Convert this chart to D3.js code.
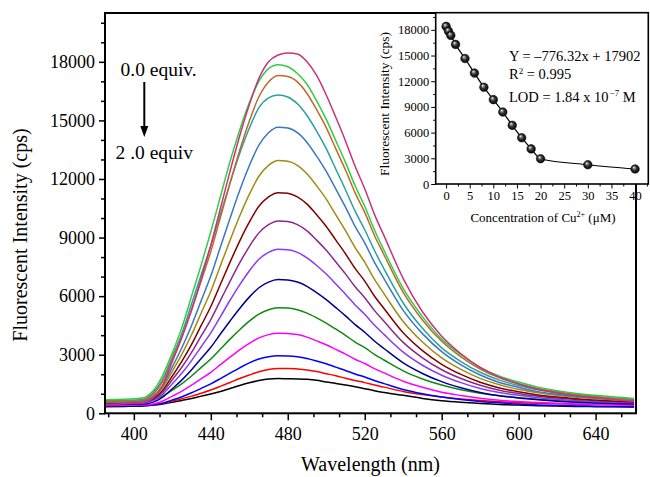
<!DOCTYPE html>
<html><head><meta charset="utf-8">
<script src="https://cdn.jsdelivr.net/npm/d3@7"></script>
<style>
body{margin:0;background:#fff}
svg{display:block}
text{font-family:"Liberation Serif","Times New Roman",serif;fill:#000}
</style>
</head><body>
<svg id="c" width="650" height="477"></svg>
<script>
// ---------- data ----------
const wavelength = [385,395,405,410,415,420,425,430,435,440,445,450,455,460,465,470,475,480,485,490,495,500,505,510,515,520,525,530,540,550,560,570,580,590,600,610,620,630,640,650,660];
const eq00 = [460,490,560,800,1450,2650,3900,5300,6900,8600,10500,12400,14200,15800,17150,18000,18350,18450,18400,18000,17300,16300,15150,13950,12650,11500,10200,9100,6900,5200,3950,3050,2350,1850,1500,1230,1050,900,800,700,620];
const eq05 = [700,720,800,1150,1950,3100,4400,6000,7600,9300,11100,12900,14500,15900,17000,17650,17850,17750,17400,16850,16000,15050,13950,12850,11650,10600,9400,8350,6400,4950,3800,3000,2350,1900,1600,1340,1160,1020,920,830,760];
const eq10 = [600,620,700,970,1640,2770,3940,5280,6780,8280,10040,11790,13460,14960,16210,16970,17300,17250,16970,16380,15550,14630,13540,12460,11290,10290,9120,8120,6190,4780,3690,2890,2270,1820,1520,1270,1100,970,870,780,720];
const eq20 = [620,640,720,1050,1750,2900,4100,5600,7100,8600,10200,11800,13300,14600,15650,16150,16300,16200,15850,15250,14450,13550,12500,11450,10350,9400,8350,7400,5650,4350,3350,2650,2100,1700,1420,1200,1040,920,830,750,690];
const eq40 = [560,580,640,860,1420,2380,3370,4500,5770,7040,8520,9990,11410,12680,13730,14370,14650,14610,14370,13870,13170,12390,11480,10560,9570,8730,7740,6900,5270,4080,3160,2480,1960,1580,1330,1110,970,860,780,700,650];
const eq60 = [560,580,620,820,1320,2160,3030,4020,5140,6250,7560,8860,10100,11210,12140,12700,12950,12910,12700,12270,11650,10970,10160,9350,8490,7740,6870,6130,4700,3650,2840,2250,1790,1460,1230,1050,920,820,750,690,640];
const eq80 = [520,530,570,750,1180,1910,2670,3530,4500,5470,6610,7740,8820,9790,10600,11080,11300,11270,11080,10710,10170,9570,8870,8170,7420,6770,6010,5370,4120,3210,2510,1990,1590,1300,1100,940,830,750,680,630,590];
const eq100 = [500,520,560,710,1080,1720,2370,3120,3960,4800,5780,6760,7700,8540,9240,9660,9850,9820,9660,9340,8870,8350,7750,7140,6480,5920,5270,4710,3630,2840,2230,1780,1440,1180,1010,870,780,710,650,600,570];
const eq120 = [480,500,530,650,970,1510,2060,2700,3410,4120,4950,5790,6580,7290,7890,8240,8400,8380,8240,7960,7570,7130,6620,6100,5550,5070,4520,4040,3130,2460,1950,1570,1270,1060,920,800,720,650,610,570,540];
const eq140 = [450,460,470,570,830,1260,1710,2230,2810,3380,4060,4730,5370,5950,6430,6720,6850,6830,6720,6500,6180,5820,5410,4990,4540,4150,3700,3320,2580,2040,1620,1310,1070,900,780,690,620,570,530,500,470];
const eq160 = [650,660,650,700,880,1190,1520,1910,2350,2780,3290,3800,4280,4720,5080,5300,5400,5390,5300,5130,4890,4620,4310,3990,3650,3360,3020,2730,2170,1760,1450,1210,1030,900,800,720,660,610,580,550,530];
const eq180 = [400,410,420,480,630,880,1140,1440,1770,2100,2490,2880,3250,3580,3860,4030,4100,4090,4030,3900,3710,3510,3270,3030,2770,2550,2290,2070,1640,1330,1080,910,770,670,600,550,510,480,460,440,430];
const eq200 = [380,390,400,430,520,680,850,1050,1280,1510,1780,2060,2330,2580,2780,2900,2950,2940,2900,2810,2680,2534,2365,2196,2014,1858,1676,1520,1221,1000,831,706,610,540,470,430,400,380,360,345,335];
const eq300 = [400,410,420,450,520,630,750,880,1030,1190,1380,1580,1780,1960,2130,2240,2290,2300,2270,2220,2140,2030,1920,1800,1680,1570,1450,1340,1120,960,830,730,650,590,545,510,485,465,450,435,425];
const eq400 = [330,350,380,420,480,560,660,760,880,990,1120,1270,1420,1560,1680,1760,1780,1770,1760,1740,1690,1600,1530,1450,1360,1260,1160,1070,920,760,640,560,500,450,420,390,370,350,340,330,320];
const seriesColors = ["#c8347c","#33cc44","#bf6a2a","#2aa0a0","#3a78c0","#a08c10","#800000","#8a2a8a","#8a3cf0","#000090","#118811","#ff00ff","#0000ff","#ff0000","#000000"];
const xTicks = [400,440,480,520,560,600,640];
const yTicks = [0,3000,6000,9000,12000,15000,18000];
// inset data
const concentration = [0,0.5,1,2,4,6,8,10,12,14,16,18,20,30,40];
const insetIntensity = [18400,17850,17350,16300,14650,12950,11300,9850,8400,6850,5400,4100,2950,2250,1750];
const insetXTicks = [0,5,10,15,20,25,30,35,40];
const insetYTicks = [0,3000,6000,9000,12000,15000,18000];

const spectra = [eq00,eq05,eq10,eq20,eq40,eq60,eq80,eq100,eq120,eq140,eq160,eq180,eq200,eq300,eq400];

// ---------- chart ----------
const svg = d3.select("#c");
const M = {l:105, t:13, r:636, b:413.3};
const x = d3.scaleLinear().domain([385,661]).range([M.l, M.r]);
const y = d3.scaleLinear().domain([0,20500]).range([M.b, M.t]);

svg.append("clipPath").attr("id","clipMain").append("rect")
  .attr("x",M.l).attr("y",M.t).attr("width",M.r-M.l).attr("height",M.b-M.t);

const line = d3.line().x((d,i)=>x(wavelength[i])).y(d=>y(d)).curve(d3.curveMonotoneX);
const gCurves = svg.append("g").attr("clip-path","url(#clipMain)");
for (let k = spectra.length-1; k >= 0; k--) {
  gCurves.append("path").datum(spectra[k]).attr("d",line)
    .attr("fill","none").attr("stroke",seriesColors[k]).attr("stroke-width",1.5)
    .attr("stroke-linejoin","round");
}

// minor ticks
const xMinor = d3.range(400-40/3, 661, 40/3).filter(v => v >= 385 && Math.abs(((v-400)/40) - Math.round((v-400)/40)) > 0.01);
const yMinor = d3.range(0, 20500, 1000).filter(v => v % 3000 !== 0);

function styleAxis(g, fs){
  g.select(".domain").remove();
  g.selectAll(".tick line").attr("stroke","#000").attr("stroke-width",1.5);
  g.selectAll(".tick text").attr("font-size",fs).attr("fill","#000")
   .attr("font-family",'"Liberation Serif","Times New Roman",serif');
}
const gxm = svg.append("g").attr("transform",`translate(0,${M.b})`)
  .call(d3.axisBottom(x).tickValues(xMinor).tickSize(4).tickFormat(""));
styleAxis(gxm,18);
const gx = svg.append("g").attr("transform",`translate(0,${M.b})`)
  .call(d3.axisBottom(x).tickValues(xTicks).tickSize(7).tickPadding(7).tickFormat(d3.format("d")));
styleAxis(gx,18);
const gym = svg.append("g").attr("transform",`translate(${M.l},0)`)
  .call(d3.axisLeft(y).tickValues(yMinor).tickSize(4).tickFormat(""));
styleAxis(gym,18);
const gy = svg.append("g").attr("transform",`translate(${M.l},0)`)
  .call(d3.axisLeft(y).tickValues(yTicks).tickSize(6).tickPadding(4).tickFormat(d3.format("d")));
styleAxis(gy,18);

svg.append("rect").attr("x",M.l).attr("y",M.t).attr("width",M.r-M.l).attr("height",M.b-M.t)
  .attr("fill","none").attr("stroke","#000").attr("stroke-width",2);

// axis titles
svg.append("text").attr("x",(M.l+M.r)/2).attr("y",471).attr("text-anchor","middle")
  .attr("font-size",20).text("Wavelength (nm)");
svg.append("text").attr("transform","translate(27,235) rotate(-90)").attr("text-anchor","middle")
  .attr("font-size",20).text("Fluorescent Intensity (cps)");

// annotation
svg.append("text").attr("x",120.5).attr("y",75.5).attr("font-size",19.5).text("0.0 equiv.");
svg.append("text").attr("x",115.5).attr("y",158.5).attr("font-size",19.5).text("2 .0 equiv");
svg.append("line").attr("x1",144.3).attr("y1",82).attr("x2",144.3).attr("y2",128)
  .attr("stroke","#000").attr("stroke-width",2);
svg.append("path").attr("d","M140.3,126 L148.3,126 L144.3,137 Z").attr("fill","#000");

// ---------- inset ----------
const I = {l:435.7, t:12.7, r:648.3, b:184};
const xi = d3.scaleLinear().domain([-2.2,42.8]).range([I.l, I.r]);
const yi = d3.scaleLinear().domain([0,20000]).range([I.b, I.t]);
svg.append("rect").attr("x",I.l).attr("y",I.t).attr("width",I.r-I.l).attr("height",I.b-I.t)
  .attr("fill","#fff").attr("stroke","none");

const ixMinor = d3.range(-2.5, 43, 2.5).filter(v => v > -2.2 && v % 5 !== 0);
const iyMinor = d3.range(1500, 20000, 3000);
const gixm = svg.append("g").attr("transform",`translate(0,${I.b})`)
  .call(d3.axisBottom(xi).tickValues(ixMinor).tickSize(2.5).tickFormat(""));
styleAxis(gixm,12.5);
const gix = svg.append("g").attr("transform",`translate(0,${I.b})`)
  .call(d3.axisBottom(xi).tickValues(insetXTicks).tickSize(4.5).tickPadding(3).tickFormat(d3.format("d")));
styleAxis(gix,12.5);
const giym = svg.append("g").attr("transform",`translate(${I.l},0)`)
  .call(d3.axisLeft(yi).tickValues(iyMinor).tickSize(2.5).tickFormat(""));
styleAxis(giym,12.5);
const giy = svg.append("g").attr("transform",`translate(${I.l},0)`)
  .call(d3.axisLeft(yi).tickValues(insetYTicks).tickSize(4.5).tickPadding(2).tickFormat(d3.format("d")));
styleAxis(giy,12.5);
[gixm,gix,giym,giy].forEach(g=>g.selectAll(".tick line").attr("stroke-width",1));

svg.append("rect").attr("x",I.l).attr("y",I.t).attr("width",I.r-I.l).attr("height",I.b-I.t)
  .attr("fill","none").attr("stroke","#000").attr("stroke-width",1.6);

const iline = d3.line().x((d,i)=>xi(concentration[i])).y(d=>yi(d)).curve(d3.curveMonotoneX);
svg.append("path").datum(insetIntensity).attr("d",iline).attr("fill","none")
  .attr("stroke","#000").attr("stroke-width",1.2);

const defs = svg.append("defs");
const rg = defs.append("radialGradient").attr("id","ball").attr("cx","50%").attr("cy","50%").attr("r","55%")
  .attr("fx","35%").attr("fy","30%");
rg.append("stop").attr("offset","0%").attr("stop-color","#ffffff");
rg.append("stop").attr("offset","18%").attr("stop-color","#a0a0a0");
rg.append("stop").attr("offset","50%").attr("stop-color","#303030");
rg.append("stop").attr("offset","100%").attr("stop-color","#000");
svg.append("g").selectAll("circle").data(insetIntensity).join("circle")
  .attr("cx",(d,i)=>xi(concentration[i])).attr("cy",d=>yi(d)).attr("r",4.3)
  .attr("fill","url(#ball)").attr("stroke","#000").attr("stroke-width",0.5);

// inset texts
svg.append("text").attr("x",509).attr("y",61).attr("font-size",14.5).text("Y = \u2013776.32x + 17902");
const r2 = svg.append("text").attr("x",509).attr("y",78.5).attr("font-size",14.5);
r2.append("tspan").text("R");
r2.append("tspan").attr("font-size",9).attr("dy",-5).text("2");
r2.append("tspan").attr("dy",5).text(" = 0.995");
const lod = svg.append("text").attr("x",509).attr("y",101.5).attr("font-size",14.5);
lod.append("tspan").text("LOD = 1.84 x 10");
lod.append("tspan").attr("font-size",9).attr("dy",-6).attr("dx",1).text("\u22127");
lod.append("tspan").attr("dy",6).text(" M");

svg.append("text").attr("x",543).attr("y",222).attr("text-anchor","middle").attr("font-size",13)
  .call(t=>{
    t.append("tspan").text("Concentration of Cu");
    t.append("tspan").attr("font-size",8).attr("dy",-5).text("2+");
    t.append("tspan").attr("dy",5).text(" (\u03bcM)");
  });
svg.append("text").attr("transform","translate(389,104) rotate(-90)").attr("text-anchor","middle")
  .attr("font-size",13.5).text("Fluorescent Intensity (cps)");
</script>
</body></html>
